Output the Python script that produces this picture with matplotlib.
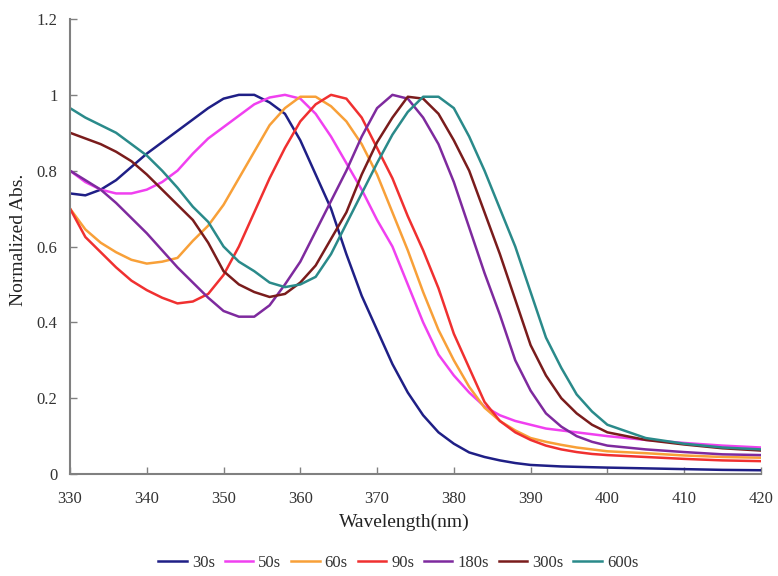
import numpy as np
import matplotlib.pyplot as plt

plt.rcParams['font.family'] = ['Liberation Serif', 'DejaVu Serif']

wavelength = [330, 332, 334, 336, 338, 340, 342, 344, 346, 348,
              350, 352, 354, 356, 358, 360, 362, 364, 366, 368,
              370, 372, 374, 376, 378, 380, 382, 384, 386, 388,
              390, 392, 394, 396, 398, 400, 405, 410, 415, 420]

abs_30s = [0.74, 0.735, 0.75, 0.775, 0.81, 0.845, 0.875, 0.905, 0.935, 0.965,
           0.99, 1.0, 1.0, 0.98, 0.95, 0.88, 0.79, 0.70, 0.58, 0.47,
           0.38, 0.29, 0.215, 0.155, 0.11, 0.08, 0.057, 0.045, 0.036, 0.029,
           0.024, 0.022, 0.02, 0.019, 0.018, 0.017, 0.015, 0.013, 0.011, 0.01]

abs_50s = [0.80, 0.77, 0.75, 0.74, 0.74, 0.75, 0.77, 0.80, 0.845, 0.885,
           0.915, 0.945, 0.975, 0.993, 1.0, 0.99, 0.95, 0.89, 0.82, 0.75,
           0.67, 0.60, 0.50, 0.40, 0.315, 0.26, 0.215, 0.178, 0.155, 0.14,
           0.13, 0.12, 0.115, 0.11, 0.105, 0.10, 0.09, 0.082, 0.075, 0.07]

abs_60s = [0.70, 0.645, 0.61, 0.585, 0.565, 0.555, 0.56, 0.57, 0.615, 0.655,
           0.71, 0.78, 0.85, 0.92, 0.965, 0.995, 0.995, 0.97, 0.93, 0.87,
           0.79, 0.69, 0.59, 0.48, 0.38, 0.30, 0.23, 0.175, 0.14, 0.115,
           0.095, 0.085, 0.077, 0.07, 0.065, 0.06, 0.055, 0.049, 0.045, 0.043]

abs_90s = [0.70, 0.625, 0.585, 0.545, 0.51, 0.485, 0.465, 0.45, 0.455, 0.475,
           0.525, 0.60, 0.69, 0.78, 0.86, 0.93, 0.975, 1.0, 0.99, 0.94,
           0.86, 0.78, 0.68, 0.59, 0.49, 0.37, 0.28, 0.19, 0.14, 0.11,
           0.09, 0.075, 0.065, 0.058, 0.053, 0.05, 0.045, 0.04, 0.036, 0.034]

abs_180s = [0.80, 0.775, 0.75, 0.715, 0.675, 0.635, 0.59, 0.545, 0.505, 0.465,
            0.43, 0.415, 0.415, 0.445, 0.50, 0.56, 0.64, 0.72, 0.80, 0.89,
            0.965, 1.0, 0.99, 0.94, 0.87, 0.77, 0.65, 0.53, 0.42, 0.30,
            0.22, 0.16, 0.125, 0.10, 0.085, 0.075, 0.065, 0.058, 0.052, 0.05]

abs_300s = [0.90, 0.885, 0.87, 0.85, 0.825, 0.79, 0.75, 0.71, 0.67, 0.61,
            0.535, 0.50, 0.48, 0.467, 0.475, 0.505, 0.55, 0.62, 0.69, 0.79,
            0.875, 0.94, 0.995, 0.99, 0.95, 0.88, 0.80, 0.69, 0.58, 0.46,
            0.34, 0.26, 0.20, 0.16, 0.13, 0.11, 0.09, 0.078, 0.068, 0.062]

abs_600s = [0.965, 0.94, 0.92, 0.90, 0.87, 0.84, 0.80, 0.755, 0.705, 0.665,
            0.60, 0.56, 0.535, 0.505, 0.493, 0.50, 0.52, 0.58, 0.66, 0.74,
            0.82, 0.895, 0.955, 0.995, 0.995, 0.965, 0.89, 0.80, 0.70, 0.60,
            0.48, 0.36, 0.28, 0.21, 0.165, 0.13, 0.095, 0.08, 0.07, 0.065]

labels = ['30s', '50s', '60s', '90s', '180s', '300s', '600s']
colors = ['#1f1f86', '#f040f0', '#f8a038', '#f03030', '#7e2a9e', '#7a1c1c', '#2a8a8a']
series = [abs_30s, abs_50s, abs_60s, abs_90s, abs_180s, abs_300s, abs_600s]

fig = plt.figure(figsize=(7.78, 5.76), dpi=100)
ax = fig.add_axes([0.09, 0.177, 0.888, 0.79])

for y, c, lab in zip(series, colors, labels):
    ax.plot(wavelength, y, color=c, lw=1.8, label=lab)

ax.set_xlim(330, 420)
ax.set_ylim(0, 1.2)
ax.set_xticks(np.arange(330, 421, 10))
ax.set_yticks([0, 0.2, 0.4, 0.6, 0.8, 1.0, 1.2])
ax.set_yticklabels(['0', '0.2', '0.4', '0.6', '0.8', '1', '1.2'])

for s in ['top', 'right']:
    ax.spines[s].set_visible(False)
for s in ['left', 'bottom']:
    ax.spines[s].set_color('#808080')
    ax.spines[s].set_linewidth(1.5)
ax.tick_params(direction='in', length=5, width=1, color='#808080',
               labelsize=12, labelcolor='#333333')
ax.tick_params(axis='x', pad=12)
ax.tick_params(axis='y', pad=9)

fig.text(0.52, 0.093, 'Wavelength(nm)', ha='center', va='center', fontsize=14, color='#222222')
fig.text(0.024, 0.583, 'Normalized Abs.', ha='center', va='center', rotation=90,
         fontsize=14, color='#222222')

fig.legend(loc='center', bbox_to_anchor=(0.512, 0.023), ncol=7, frameon=False,
           fontsize=12, handlelength=1.7, columnspacing=0.6, handletextpad=0.3,
           labelcolor='#333333')

fig.savefig('out.png', dpi=100)
